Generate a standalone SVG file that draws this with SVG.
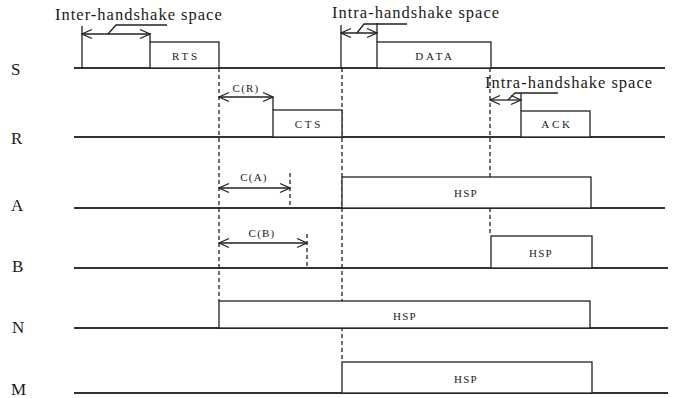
<svg xmlns="http://www.w3.org/2000/svg" width="682" height="398" viewBox="0 0 682 398">
<style>
text{font-family:"Liberation Serif","Times New Roman",serif;fill:#1a1a1a}
.lbl{font-size:17px}
.big{font-size:16.5px;letter-spacing:1px}
.sm{font-size:11px;letter-spacing:2.8px;text-anchor:middle}
.hsp{font-size:11px;letter-spacing:1.3px;text-anchor:middle}
.cl{font-size:11px;letter-spacing:1.2px;text-anchor:middle}
.tl{stroke:#333;stroke-width:2;fill:none}
.box{stroke:#222;stroke-width:1.3;fill:#fff}
.sol{stroke:#222;stroke-width:1.3;fill:none}
.dash{stroke:#222;stroke-width:1.3;stroke-dasharray:4 3;fill:none}
.arr{stroke:#222;stroke-width:1.3;fill:none;marker-start:url(#ah);marker-end:url(#ah)}
</style>
<defs>
<marker id="ah" viewBox="0 0 12 12" refX="11" refY="6" markerWidth="12" markerHeight="12" markerUnits="userSpaceOnUse" orient="auto-start-reverse">
<path d="M1,1.5 L11,6 L1,10.5" fill="none" stroke="#222" stroke-width="1.3"/>
</marker>
</defs>
<g id="timelines">
<line class="tl" x1="74" y1="68" x2="665" y2="68"/>
<line class="tl" x1="74" y1="137" x2="665" y2="137"/>
<line class="tl" x1="74" y1="208" x2="665" y2="208"/>
<line class="tl" x1="74" y1="268" x2="668" y2="268"/>
<line class="tl" x1="74" y1="328" x2="668" y2="328"/>
<line class="tl" x1="74" y1="393" x2="668" y2="393"/>
<text class="lbl" x="11" y="75">S</text>
<text class="lbl" x="11" y="144">R</text>
<text class="lbl" x="11" y="211">A</text>
<text class="lbl" x="12" y="272">B</text>
<text class="lbl" x="12" y="333">N</text>
<text class="lbl" x="11" y="395">M</text>
</g>
<g id="connectors">
<line class="dash" x1="219" y1="68" x2="219" y2="301"/>
<line class="dash" x1="342" y1="68" x2="342" y2="362"/>
<line class="dash" x1="490" y1="68" x2="490" y2="236"/>
<line class="dash" x1="290" y1="173" x2="290" y2="208"/>
<line class="dash" x1="307" y1="234" x2="307" y2="268"/>
<line class="sol" x1="82" y1="26" x2="82" y2="68"/>
<line class="sol" x1="150" y1="33" x2="150" y2="42"/>
<line class="arr" x1="82" y1="34" x2="150" y2="34"/>
<polyline class="sol" points="108,34 116,25 167,25"/>
<line class="sol" x1="341" y1="25" x2="341" y2="68"/>
<line class="sol" x1="377" y1="23" x2="377" y2="42"/>
<line class="arr" x1="341" y1="33" x2="377" y2="33"/>
<polyline class="sol" points="357,33 364,24 407,24"/>
<line class="sol" x1="521" y1="93" x2="521" y2="111"/>
<line class="arr" x1="490" y1="100" x2="521" y2="100"/>
<polyline class="sol" points="508,100 515,93 558,93"/>
<line class="sol" x1="273" y1="97" x2="273" y2="110"/>
<line class="arr" x1="219" y1="97" x2="273" y2="97"/>
<line class="arr" x1="219" y1="188" x2="290" y2="188"/>
<line class="arr" x1="219" y1="243" x2="307" y2="243"/>
<text class="big" x="55" y="20">Inter-handshake space</text>
<text class="big" x="332" y="18">Intra-handshake space</text>
<text class="big" x="485" y="88">Intra-handshake space</text>
<text class="cl" x="246" y="92">C(R)</text>
<text class="cl" x="254" y="181">C(A)</text>
<text class="cl" x="262" y="237">C(B)</text>
</g>
<g id="rts"><rect class="box" x="150" y="42" width="69" height="26"/><text class="sm" x="186" y="60">RTS</text></g>
<g id="data"><rect class="box" x="377" y="42" width="114" height="26"/><text class="sm" x="435" y="60">DATA</text></g>
<g id="cts"><rect class="box" x="273" y="110" width="69" height="27"/><text class="sm" x="309" y="128">CTS</text></g>
<g id="ack"><rect class="box" x="521" y="111" width="69" height="26"/><text class="sm" x="557" y="128">ACK</text></g>
<g id="hsp-a"><rect class="box" x="342" y="177" width="249" height="31"/><text class="hsp" x="466" y="197">HSP</text></g>
<g id="hsp-b"><rect class="box" x="491" y="236" width="101" height="32"/><text class="hsp" x="541" y="257">HSP</text></g>
<g id="hsp-n"><rect class="box" x="219" y="301" width="371" height="27"/><text class="hsp" x="405" y="320">HSP</text></g>
<g id="hsp-m"><rect class="box" x="342" y="362" width="250" height="31"/><text class="hsp" x="466" y="383">HSP</text></g>
</svg>
